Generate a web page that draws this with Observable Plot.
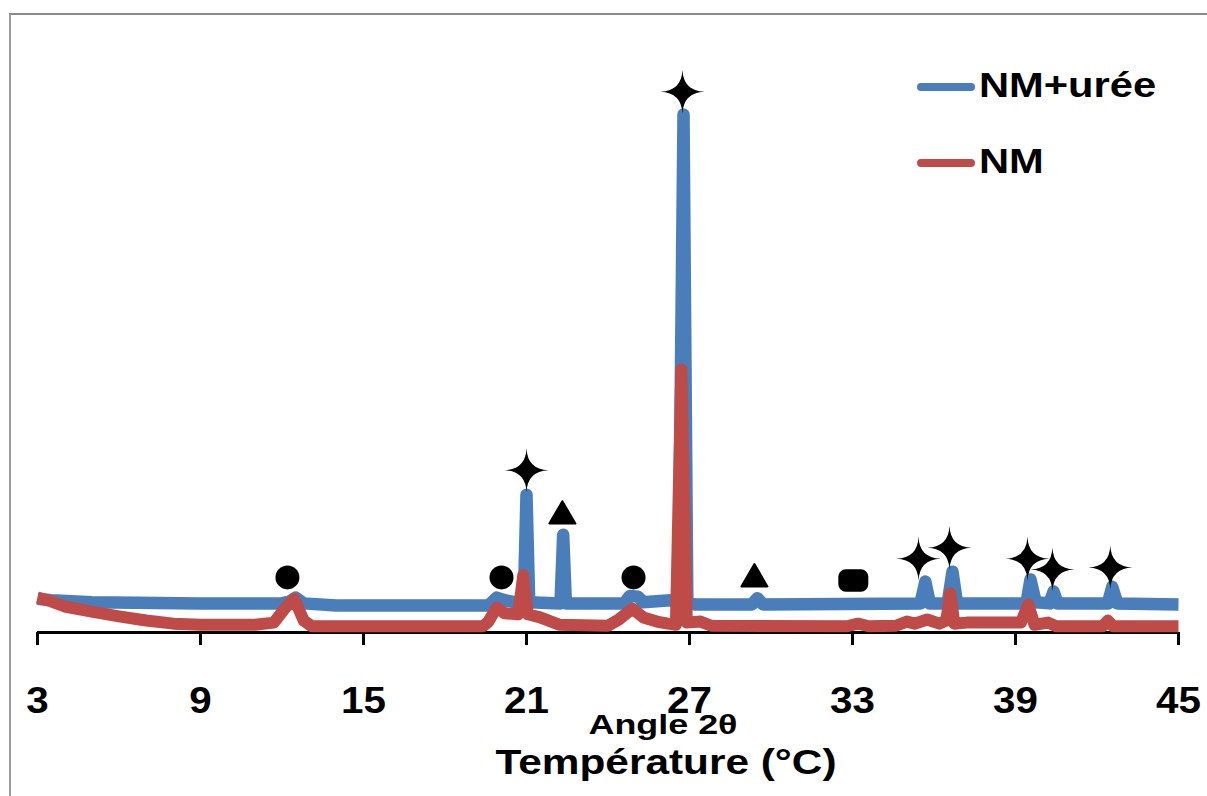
<!DOCTYPE html>
<html><head><meta charset="utf-8">
<script src="https://cdn.jsdelivr.net/npm/d3@7"></script>
<script src="https://cdn.jsdelivr.net/npm/@observablehq/plot@0.6"></script>
<style>
html,body{margin:0;padding:0;background:#fff;}
#wrap{position:relative;width:1207px;height:796px;overflow:hidden;font-family:"Liberation Sans",Arial,sans-serif;}
#border{position:absolute;left:9px;top:13px;width:1220px;height:800px;border-left:2px solid #9a9a9a;border-top:2px solid #8a8a8a;}
#wrap svg{position:absolute;left:0;top:0;}
</style></head><body>
<div id="wrap"><div id="border"></div></div>
<script>
// ---- data ----
const xTicks = [3, 9, 15, 21, 27, 33, 39, 45];
const seriesNames = ["NM+urée", "NM"];
const seriesColors = ["#4a7ebb", "#be4b48"];
const xTitle = "Angle 2θ";
const xTitle2 = "Température (°C)";

// NM+urée (blue)
const blueX = [3, 3.5, 5, 9, 12.0, 12.3, 12.5, 12.8, 14, 19.6, 19.9, 20.2, 20.6, 20.9, 21.0, 21.1,
  22.25, 22.35, 22.45, 24.6, 24.8, 25.1, 25.3, 26.3, 26.6, 26.78, 26.92, 27.2, 29.3, 29.5, 29.7,
  35.5, 35.68, 35.85, 36.5, 36.68, 36.85, 39.4, 39.55, 39.75, 40.25, 40.4, 40.55, 42.4, 42.56, 42.75, 45];
const blueY = [6.5, 6.2, 5.8, 5.6, 5.6, 6.0, 6.7, 5.6, 5.2, 5.2, 6.7, 6.2, 5.8, 5.8, 26.5, 5.8,
  5.6, 18.8, 5.6, 5.6, 7.0, 6.9, 5.8, 6.2, 6.0, 99.6, 5.8, 5.4, 5.4, 6.6, 5.4,
  5.6, 9.8, 5.6, 5.6, 11.7, 5.6, 5.6, 10.2, 5.8, 5.6, 7.9, 5.6, 5.6, 8.8, 5.6, 5.4];

// NM (red)
const redX = [3, 3.5, 4, 5, 6, 7, 8, 9, 11, 11.7, 12.1, 12.45, 12.8, 13.1, 19.4, 19.6, 19.9, 20.2, 20.7,
  20.88, 21.05, 21.5, 22.2, 24.0, 24.4, 24.9, 25.3, 25.8, 26.2, 26.5, 26.7, 26.9, 27.4, 27.8, 32.8, 33.2,
  33.6, 34.6, 35.0, 35.3, 35.75, 36.2, 36.45, 36.6, 36.75, 37.2, 39.2, 39.47, 39.7, 40.2, 40.5, 42.2,
  42.4, 42.6, 45];
const redY = [6.7, 6.0, 5.0, 4.0, 3.1, 2.3, 1.7, 1.5, 1.5, 1.9, 4.6, 6.5, 2.3, 1.2, 1.2, 2.1, 4.8, 3.7, 3.5,
  11.0, 3.5, 2.9, 1.5, 1.3, 2.5, 4.6, 2.9, 2.1, 1.7, 1.5, 50.6, 1.9, 2.1, 1.3, 1.2, 1.7,
  1.2, 1.3, 2.1, 1.7, 2.5, 1.7, 2.3, 7.5, 1.7, 1.9, 1.9, 5.4, 1.5, 1.9, 1.2, 1.2,
  2.3, 1.2, 1.2];

// phase markers
const markerX = [12.2, 20.08, 21.0, 22.32, 24.94, 26.74, 29.39, 33.03, 35.43, 36.57, 39.44, 40.36, 42.49];
const markerY = [10.6, 10.6, 31.2, 23.1, 10.6, 104, 11.0, 10.0, 14.2, 16.3, 14.2, 12.1, 12.5];
const markerType = ["circle", "circle", "star", "triangle", "circle", "star", "triangle", "square",
  "star", "star", "star", "star", "star"];

// ---- build ----
const blue = blueX.map((x, i) => ({x, y: blueY[i]}));
const red = redX.map((x, i) => ({x, y: redY[i]}));
const markers = markerX.map((x, i) => ({x, y: markerY[i], type: markerType[i]}));

const star4 = {draw(ctx, size) {
  const R = Math.sqrt(size / Math.PI);
  const c = R * 0.04;
  ctx.moveTo(0, -R);
  ctx.quadraticCurveTo(c, -c, R, 0);
  ctx.quadraticCurveTo(c, c, 0, R);
  ctx.quadraticCurveTo(-c, c, -R, 0);
  ctx.quadraticCurveTo(-c, -c, 0, -R);
  ctx.closePath();
}};
const tri = {draw(ctx, size) {
  const R = Math.sqrt(size / Math.PI);
  const h = R * 0.86;
  ctx.moveTo(0, -h);
  ctx.lineTo(R, h);
  ctx.lineTo(-R, h);
  ctx.closePath();
}};
const rsq = {draw(ctx, size) {
  const R = Math.sqrt(size / Math.PI);
  const w = R, h = R * 0.75, r = R * 0.5;
  ctx.moveTo(-w + r, -h);
  ctx.lineTo(w - r, -h);
  ctx.arcTo(w, -h, w, -h + r, r);
  ctx.lineTo(w, h - r);
  ctx.arcTo(w, h, w - r, h, r);
  ctx.lineTo(-w + r, h);
  ctx.arcTo(-w, h, -w, h - r, r);
  ctx.lineTo(-w, -h + r);
  ctx.arcTo(-w, -h, -w + r, -h, r);
  ctx.closePath();
}};

const font = '"Liberation Sans", Arial, sans-serif';
const plot = Plot.plot({
  width: 1207, height: 796,
  marginLeft: 37, marginRight: 29, marginTop: 112, marginBottom: 164,
  x: {domain: [3, 45]},
  y: {domain: [0, 100], axis: null},
  style: {fontFamily: font, fontWeight: "bold", background: "transparent", color: "black", overflow: "visible"},
  marks: [
    Plot.ruleY([0], {stroke: "black", strokeWidth: 3}),
    Plot.axisX({ticks: xTicks, tickSize: 13, tickPadding: 42, stroke: "black", strokeWidth: 3,
      fontSize: 36, fontWeight: "bold", tickFormat: d => String(d), label: null}),
    Plot.line(blue, {x: "x", y: "y", stroke: seriesColors[0], strokeWidth: 12.5, strokeLinejoin: "round", strokeLinecap: "butt"}),
    Plot.line(red, {x: "x", y: "y", stroke: seriesColors[1], strokeWidth: 12, strokeLinejoin: "round", strokeLinecap: "butt"}),
    Plot.dot(markers.filter(d => d.type === "circle"), {x: "x", y: "y", r: 12, symbol: "circle", fill: "black", stroke: "none"}),
    Plot.dot(markers.filter(d => d.type === "star"), {x: "x", y: "y", r: 22, symbol: star4, fill: "black", stroke: "none"}),
    Plot.dot(markers.filter(d => d.type === "triangle"), {x: "x", y: "y", r: 13, symbol: tri, fill: "black", stroke: "black", strokeWidth: 2, strokeLinejoin: "round"}),
    Plot.dot(markers.filter(d => d.type === "square"), {x: "x", y: "y", r: 15, symbol: rsq, fill: "black", stroke: "none"}),
    Plot.text([xTitle], {frameAnchor: "bottom", lineAnchor: "bottom", dx: 55, dy: 101, fontSize: 27, fontWeight: "bold", fill: "black"}),
    Plot.text([xTitle2], {frameAnchor: "bottom", lineAnchor: "bottom", dx: 58, dy: 141, fontSize: 35, fontWeight: "bold", fill: "black"})
  ]
});
const wrap = document.getElementById("wrap");
wrap.appendChild(plot);

// legend
const leg = d3.select(wrap).append("svg").attr("width", 1207).attr("height", 796);
seriesNames.forEach((name, i) => {
  const y = 87 + i * 76;
  leg.append("line").attr("x1", 921).attr("x2", 971).attr("y1", y).attr("y2", y)
    .attr("stroke", seriesColors[i]).attr("stroke-width", 8).attr("stroke-linecap", "round");
  leg.append("text").attr("x", 979).attr("y", y + 10).attr("font-family", font)
    .attr("font-weight", "bold").attr("font-size", 35).attr("fill", "black").text(name);
});

// horizontal stretch of the text, as in the reference
function stretch(t, f, fixed) {
  const len = t.getComputedTextLength();
  t.setAttribute("textLength", fixed || len * f);
  t.setAttribute("lengthAdjust", "spacingAndGlyphs");
}
d3.select(plot).selectAll("text").each(function() {
  const s = this.textContent;
  if (s === xTitle) stretch(this, 1, 149);
  else if (s === xTitle2) stretch(this, 1, 341);
  else stretch(this, 1.12);
});
leg.selectAll("text").each(function() { stretch(this, 1.19); });
</script>
</body></html>
